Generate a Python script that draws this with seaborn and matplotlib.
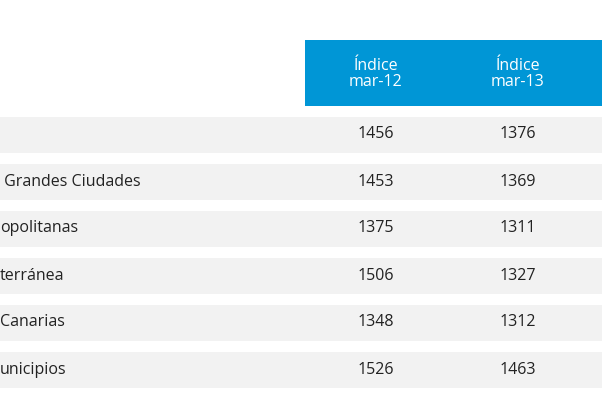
import matplotlib
matplotlib.use("Agg")
import matplotlib.pyplot as plt
import seaborn as sns

sns.set_theme(style="white")
plt.rcParams['font.family'] = ['Open Sans', 'DejaVu Sans']

labels = ["", " Grandes Ciudades", "opolitanas", "terránea", "Canarias", "unicipios"]
idx_mar12 = [1456, 1453, 1375, 1506, 1348, 1526]
idx_mar13 = [1376, 1369, 1311, 1327, 1312, 1463]
headers = ["Índice\nmar-12", "Índice\nmar-13"]

fig = plt.figure(figsize=(6.02, 4.01), dpi=100)
ax = fig.add_axes([0, 0, 1, 1])
ax.set_xlim(0, 602)
ax.set_ylim(401, 0)
ax.axis("off")

ax.barh([73], [297], left=305, height=66, color="#0096D6", linewidth=0)
col_x = [376, 518]
for cx, h in zip(col_x, headers):
    ax.text(cx, 74, h, ha="center", va="center", color="white", fontsize=11.5, linespacing=1.05)

ys = [134.5 + 47 * i for i in range(len(labels))]
ax.barh(ys, [602] * len(ys), left=0, height=36, color="#F2F2F2", linewidth=0)
for y, lab, a, b in zip(ys, labels, idx_mar12, idx_mar13):
    ax.text(0, y, lab, ha="left", va="center", color="#222222", fontsize=11.5)
    ax.text(col_x[0], y, str(a), ha="center", va="center", color="#222222", fontsize=11.5)
    ax.text(col_x[1], y, str(b), ha="center", va="center", color="#222222", fontsize=11.5)

fig.savefig("out.png", dpi=100)
